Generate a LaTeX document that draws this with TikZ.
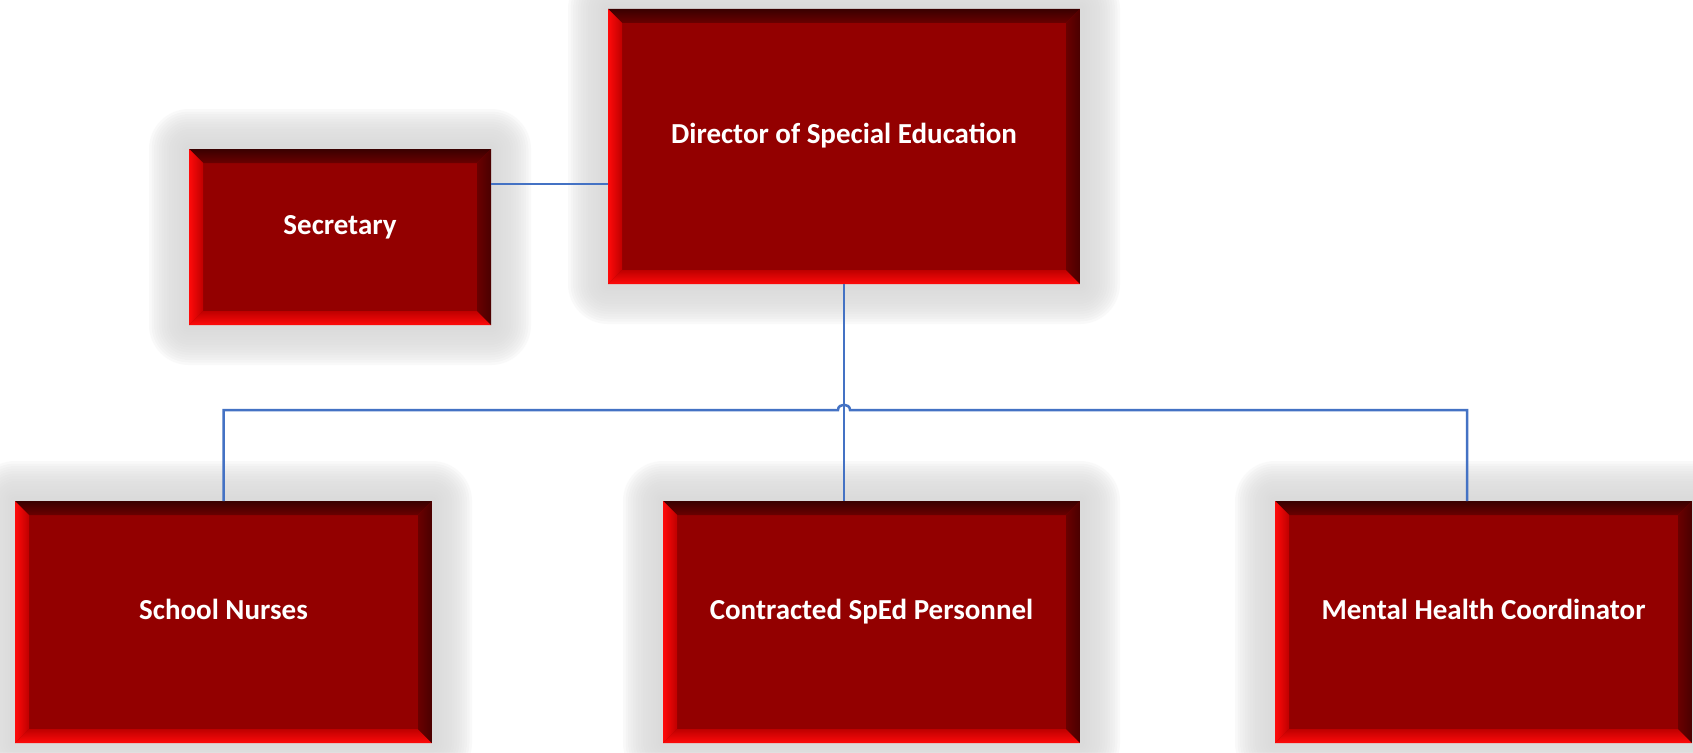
\documentclass[tikz,border=0pt]{standalone}
\usepackage{fontspec}
\setmainfont{Carlito}
\usetikzlibrary{calc,backgrounds}
\definecolor{boxred}{HTML}{930000}
\definecolor{topdark}{HTML}{3A0000}
\definecolor{topmid}{HTML}{6A0000}
\definecolor{brightred}{HTML}{FF0A0A}
\definecolor{innerred}{HTML}{BE0000}
\definecolor{rightdark}{HTML}{4A0000}
\definecolor{rightmid}{HTML}{6A0000}
\definecolor{connblue}{HTML}{4472C4}
\definecolor{glowgray}{HTML}{DBDBDB}
\tikzset{
  orgbox/.style={rectangle, fill=boxred, inner sep=0pt, outer sep=0pt,
    text=white, font=\fontsize{29}{34}\selectfont\bfseries,
    text height=20pt, text depth=26pt,
    path picture={
      \coordinate (pnw) at (path picture bounding box.north west);
      \coordinate (pne) at (path picture bounding box.north east);
      \coordinate (psw) at (path picture bounding box.south west);
      \coordinate (pse) at (path picture bounding box.south east);
      \shade[top color=topdark, bottom color=topmid]
        (pnw) -- (pne) -- ([shift={(-14,14)}]pne) -- ([shift={(14,14)}]pnw) -- cycle;
      \shade[top color=innerred, bottom color=brightred]
        (psw) -- (pse) -- ([shift={(-14,-14)}]pse) -- ([shift={(14,-14)}]psw) -- cycle;
      \shade[left color=brightred, right color=innerred]
        (pnw) -- (psw) -- ([shift={(14,-14)}]psw) -- ([shift={(14,14)}]pnw) -- cycle;
      \shade[left color=rightmid, right color=rightdark]
        (pne) -- (pse) -- ([shift={(-14,-14)}]pse) -- ([shift={(-14,14)}]pne) -- cycle;
    }},
  conn/.style={draw=connblue, line width=2.5pt}
}
\begin{document}
\begin{tikzpicture}[x=1pt, y=-1pt]
\useasboundingbox (0,0) rectangle (1693,752);
\node[orgbox, minimum width=472pt, minimum height=275pt] (dir) at (844,146.5) {Director of Special Education};
\node[orgbox, minimum width=302pt, minimum height=176pt] (sec) at (340,237) {Secretary};
\node[orgbox, minimum width=417pt, minimum height=242pt] (nur) at (223.5,622) {School Nurses};
\node[orgbox, minimum width=417pt, minimum height=242pt] (con) at (871.5,622) {Contracted SpEd Personnel};
\node[orgbox, minimum width=417pt, minimum height=242pt] (men) at (1483.5,622) {Mental Health Coordinator};
\begin{scope}[on background layer]
  \fill[white] (0,0) rectangle (1693,752);
  \foreach \n in {dir,sec,nur,con,men}{
    \foreach \i in {1,...,16}{
      \fill[glowgray, opacity=0.14, rounded corners=2.5*\i pt]
        ([shift={(-2.5*\i,-2.5*\i)}]\n.north west) rectangle ([shift={(2.5*\i,2.5*\i)}]\n.south east);
    }
  }
\end{scope}
% Secretary to Director
\coordinate (s1) at ($(sec.north east)!0.2!(sec.south east)$);
\draw[conn] (s1) -- (s1 -| dir.west);
% Director down to Contracted
\draw[conn] (dir.south) -- (dir.south |- con.north);
% bus with jump
\coordinate (jump) at ($(dir.south)+(0,126)$);
\coordinate (mdrop) at ([xshift=-16.5pt]men.north);
\draw[conn] (nur.north) -- (nur.north |- jump) -- ([xshift=-6pt]jump)
  .. controls ([xshift=-6pt,yshift=7pt]jump) and ([xshift=6pt,yshift=7pt]jump) .. ([xshift=6pt]jump)
  -- (jump -| mdrop) -- (mdrop);
\end{tikzpicture}
\end{document}
